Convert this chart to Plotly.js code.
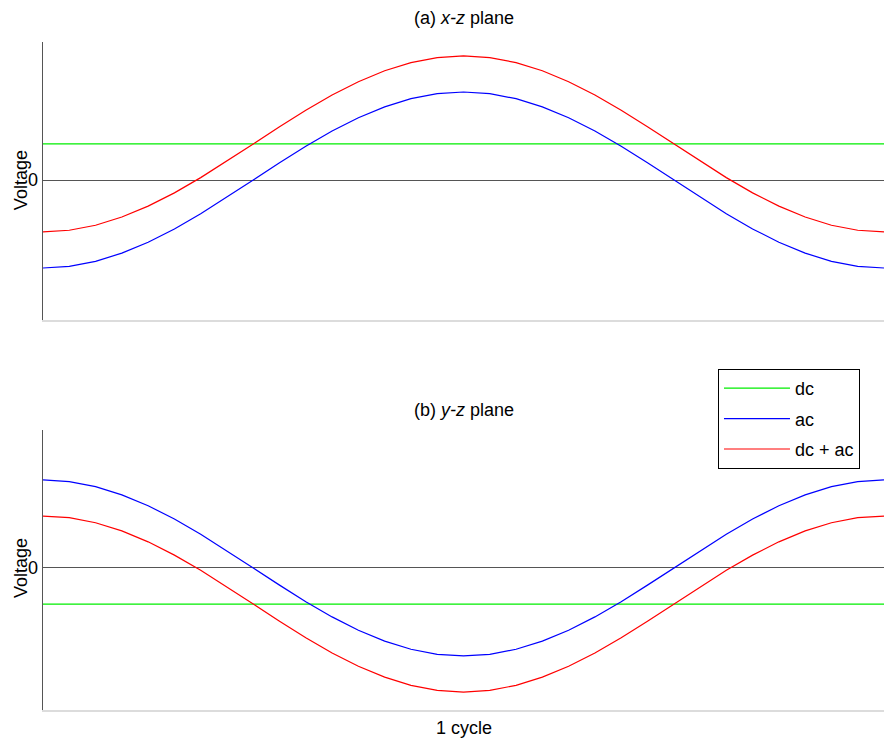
<!DOCTYPE html>
<html>
<head>
<meta charset="utf-8">
<script src="https://cdn.plot.ly/plotly-3.0.1.min.js"></script>
<style>
  html, body { margin: 0; padding: 0; background: #fff; }
  #chart { width: 884px; height: 742px; }
</style>
</head>
<body>
<div id="chart"></div>
<script>
// Phase steps across one cycle (32 samples per cycle)
const cycleSteps = [0, 1, 2, 3, 4, 5, 6, 7, 8, 9, 10, 11, 12, 13, 14, 15, 16,
                    17, 18, 19, 20, 21, 22, 23, 24, 25, 26, 27, 28, 29, 30, 31, 32];
const dcSteps = [0, 32];

// (a) x-z plane
const dcXZ = [0.41, 0.41];
const acXZ = [-1.000, -0.981, -0.924, -0.831, -0.707, -0.556, -0.383, -0.195, 0.000,
              0.195, 0.383, 0.556, 0.707, 0.831, 0.924, 0.981, 1.000,
              0.981, 0.924, 0.831, 0.707, 0.556, 0.383, 0.195, 0.000,
              -0.195, -0.383, -0.556, -0.707, -0.831, -0.924, -0.981, -1.000];
const sumXZ = [-0.590, -0.571, -0.514, -0.421, -0.297, -0.146, 0.027, 0.215, 0.410,
               0.605, 0.793, 0.966, 1.117, 1.241, 1.334, 1.391, 1.410,
               1.391, 1.334, 1.241, 1.117, 0.966, 0.793, 0.605, 0.410,
               0.215, 0.027, -0.146, -0.297, -0.421, -0.514, -0.571, -0.590];

// (b) y-z plane
const dcYZ = [-0.41, -0.41];
const acYZ = [1.000, 0.981, 0.924, 0.831, 0.707, 0.556, 0.383, 0.195, 0.000,
              -0.195, -0.383, -0.556, -0.707, -0.831, -0.924, -0.981, -1.000,
              -0.981, -0.924, -0.831, -0.707, -0.556, -0.383, -0.195, 0.000,
              0.195, 0.383, 0.556, 0.707, 0.831, 0.924, 0.981, 1.000];
const sumYZ = [0.590, 0.571, 0.514, 0.421, 0.297, 0.146, -0.027, -0.215, -0.410,
               -0.605, -0.793, -0.966, -1.117, -1.241, -1.334, -1.391, -1.410,
               -1.391, -1.334, -1.241, -1.117, -0.966, -0.793, -0.605, -0.410,
               -0.215, -0.027, 0.146, 0.297, 0.421, 0.514, 0.571, 0.590];

const seriesNames = ['dc', 'ac', 'dc + ac'];
const seriesColors = ['#00ee00', '#0000ff', '#ff0000'];
const panelTitles = ['(a) <i>x-z</i> plane', '(b) <i>y-z</i> plane'];

const FONT = 'Liberation Sans, Arial, Helvetica, sans-serif';
const FS = 18;

function line(x, y, i, xa, ya, show) {
  return {
    x: x, y: y, type: 'scatter', mode: 'lines',
    name: seriesNames[i], legendgroup: 'g' + i, showlegend: show,
    line: { color: seriesColors[i], width: 1.2 },
    xaxis: xa, yaxis: ya, hoverinfo: 'skip'
  };
}

const traces = [
  line(dcSteps, dcXZ, 0, 'x', 'y', true),
  line(cycleSteps, acXZ, 1, 'x', 'y', true),
  line(cycleSteps, sumXZ, 2, 'x', 'y', true),
  line(dcSteps, dcYZ, 0, 'x2', 'y2', false),
  line(cycleSteps, acYZ, 1, 'x2', 'y2', false),
  line(cycleSteps, sumYZ, 2, 'x2', 'y2', false)
];

const xAxisBase = {
  range: [0, 32], showgrid: false, zeroline: false,
  showticklabels: false, ticks: '',
  showline: true, linecolor: '#dcdcdc', linewidth: 1.5
};
const yAxisBase = {
  showgrid: false, zeroline: true, zerolinecolor: '#555555', zerolinewidth: 1,
  tickvals: [0], ticktext: ['0'], ticks: '',
  showline: true, linecolor: '#555555', linewidth: 1.5,
  tickfont: { family: FONT, size: FS, color: '#000' }
};

// Vertical "Voltage" label centred on the zero line of each panel
function voltageLabel(yref) {
  return { text: 'Voltage', xref: 'paper', yref: yref, x: -0.026, y: 0,
           xanchor: 'center', yanchor: 'middle', textangle: -90, showarrow: false,
           font: { family: FONT, size: FS, color: '#000' } };
}

const layout = {
  width: 884, height: 742,
  margin: { l: 43, r: 0, t: 42, b: 32 },
  paper_bgcolor: '#ffffff', plot_bgcolor: '#ffffff',
  font: { family: FONT, size: FS, color: '#000' },
  xaxis: Object.assign({}, xAxisBase, { domain: [0, 1], anchor: 'y' }),
  yaxis: Object.assign({}, yAxisBase, { domain: [0.5838, 1], range: [-1.591, 1.568], anchor: 'x' }),
  xaxis2: Object.assign({}, xAxisBase, { domain: [0, 1], anchor: 'y2' }),
  yaxis2: Object.assign({}, yAxisBase, { domain: [0, 0.4192], range: [-1.614, 1.568], anchor: 'x2' }),
  showlegend: true,
  legend: {
    x: 0.8026, xanchor: 'left', y: 0.5105, yanchor: 'top',
    bgcolor: '#ffffff', bordercolor: '#000000', borderwidth: 1,
    font: { family: FONT, size: FS, color: '#000' },
    traceorder: 'grouped', tracegroupgap: 4, itemwidth: 66
  },
  annotations: [
    { text: panelTitles[0], xref: 'paper', yref: 'paper', x: 0.5, y: 1.036,
      xanchor: 'center', yanchor: 'middle', showarrow: false,
      font: { family: FONT, size: FS, color: '#000' } },
    { text: panelTitles[1], xref: 'paper', yref: 'paper', x: 0.5, y: 0.449,
      xanchor: 'center', yanchor: 'middle', showarrow: false,
      font: { family: FONT, size: FS, color: '#000' } },
    { text: '1 cycle', xref: 'paper', yref: 'paper', x: 0.5, y: -0.027,
      xanchor: 'center', yanchor: 'middle', showarrow: false,
      font: { family: FONT, size: FS, color: '#000' } },
    voltageLabel('y'),
    voltageLabel('y2')
  ]
};

Plotly.newPlot('chart', traces, layout, { staticPlot: true, displayModeBar: false });
</script>
</body>
</html>
